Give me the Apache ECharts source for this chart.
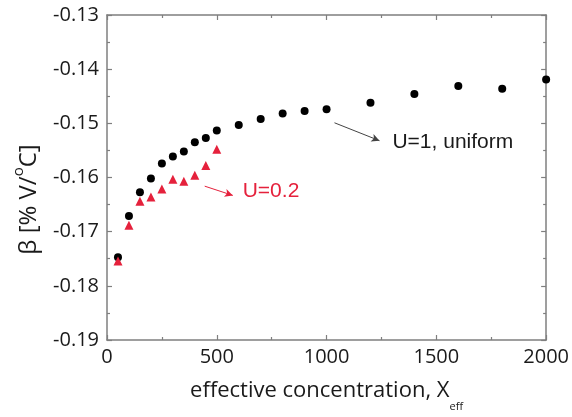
<!DOCTYPE html>
<html><head><meta charset="utf-8">
<script src="https://cdn.jsdelivr.net/npm/echarts@6/dist/echarts.min.js"></script>
<style>html,body{margin:0;padding:0;background:#fff}#c{width:572px;height:417px}</style>
</head><body><div id="c"></div>
<script>
const uniformX = [50,100,150,200,250,300,350,400,450,500,600,700,800,900,1000,1200,1400,1600,1800,2000];
const uniformY = [-0.1747,-0.1671,-0.1627,-0.1602,-0.1574,-0.1561,-0.1552,-0.1535,-0.1527,-0.1513,-0.1503,-0.1492,-0.1482,-0.1477,-0.1474,-0.1462,-0.1446,-0.1431,-0.1436,-0.1419];
const u02X = [50,100,150,200,250,300,350,400,450,500];
const u02Y = [-0.1754,-0.1688,-0.1644,-0.1636,-0.1621,-0.1603,-0.1607,-0.1596,-0.1578,-0.1548];
const xTicks = [0,500,1000,1500,2000];
const yTicks = [-0.19,-0.18,-0.17,-0.16,-0.15,-0.14,-0.13];
const labelU1 = 'U=1, uniform';
const labelU02 = 'U=0.2';
const xTitle = 'effective concentration, X';
const yTitle = 'β [% V/';

const font = '"Open Sans", sans-serif';
const afont = '"Liberation Sans", Arial, sans-serif';
const axisCol = '#7f7f7f';
const txtCol = '#1a1a1a';
const red = '#e5213c';

const chart = echarts.init(document.getElementById('c'));
const baseX = {
  type:'value', min:0, max:2000, interval:500,
  axisLine:{show:true,onZero:false,lineStyle:{color:axisCol,width:1.5}},
  axisTick:{show:true,inside:true,length:5,lineStyle:{color:axisCol,width:1.2}},
  minorTick:{show:true,splitNumber:2,length:3,lineStyle:{color:axisCol,width:1.2}},
  splitLine:{show:false}
};
const baseY = {
  type:'value', min:-0.19, max:-0.13, interval:0.01,
  axisLine:{show:true,onZero:false,lineStyle:{color:axisCol,width:1.5}},
  axisTick:{show:true,inside:true,length:5,lineStyle:{color:axisCol,width:1.2}},
  minorTick:{show:true,splitNumber:2,length:3,lineStyle:{color:axisCol,width:1.2}},
  splitLine:{show:false}
};
chart.setOption({
  animation:false,
  backgroundColor:'#fff',
  grid:{left:107,right:23,top:15,bottom:74},
  xAxis:[
    Object.assign({}, baseX, {position:'bottom',
      axisLabel:{show:true,color:txtCol,fontFamily:font,fontSize:20,margin:7,formatter:v=>String(v)},
      name:xTitle+'{sub|eff}', nameLocation:'middle', nameGap:40,
      nameTextStyle:{color:txtCol,fontFamily:font,fontSize:22,
        rich:{sub:{fontSize:11,fontFamily:font,color:txtCol,verticalAlign:'bottom',padding:[0,0,-10,0]}}}
    }),
    Object.assign({}, baseX, {position:'top',axisLabel:{show:false}})
  ],
  yAxis:[
    Object.assign({}, baseY, {position:'left',
      axisLabel:{show:true,color:txtCol,fontFamily:font,fontSize:20,margin:8,
        formatter:v=>v.toFixed(2)},
      name:yTitle+'{sup|o}C]', nameLocation:'middle', nameGap:66, nameRotate:90,
      nameTextStyle:{color:txtCol,fontFamily:font,fontSize:24,padding:[0,44,0,0],
        rich:{sup:{fontSize:15,fontFamily:font,color:txtCol,verticalAlign:'top',padding:[-6,0,0,0]}}}
    }),
    Object.assign({}, baseY, {position:'right',axisLabel:{show:false}})
  ],
  series:[
    {
      type:'scatter', name:'U=1', symbol:'circle', symbolSize:8,
      itemStyle:{color:'#000',opacity:1},
      data: uniformX.map((x,i)=>[x,uniformY[i]]),
      z:3,
      markLine:{silent:true,symbol:['none','arrow'],symbolSize:[6,8],
        lineStyle:{color:'#444',width:1,type:'solid'},label:{show:false},
        data:[[{coord:[1036,-0.1499]},{coord:[1241,-0.1532]}]]},
      markPoint:{silent:true,symbol:'circle',symbolSize:0,
        data:[{coord:[1300,-0.1534],label:{show:true,position:'right',distance:0,formatter:labelU1,
          color:txtCol,fontFamily:afont,fontSize:21}}]}
    },
    {
      type:'scatter', name:'U=0.2', symbol:'triangle', symbolSize:9,
      itemStyle:{color:red,opacity:1},
      data: u02X.map((x,i)=>[x,u02Y[i]]),
      z:4,
      markLine:{silent:true,symbol:['none','arrow'],symbolSize:[6,8],
        lineStyle:{color:red,width:1,type:'solid'},label:{show:false},
        data:[[{coord:[445,-0.1616]},{coord:[573,-0.1633]}]]},
      markPoint:{silent:true,symbol:'circle',symbolSize:0,
        data:[{coord:[618,-0.1626],label:{show:true,position:'right',distance:0,formatter:labelU02,
          color:red,fontFamily:afont,fontSize:21}}]}
    }
  ]
});
</script></body></html>
